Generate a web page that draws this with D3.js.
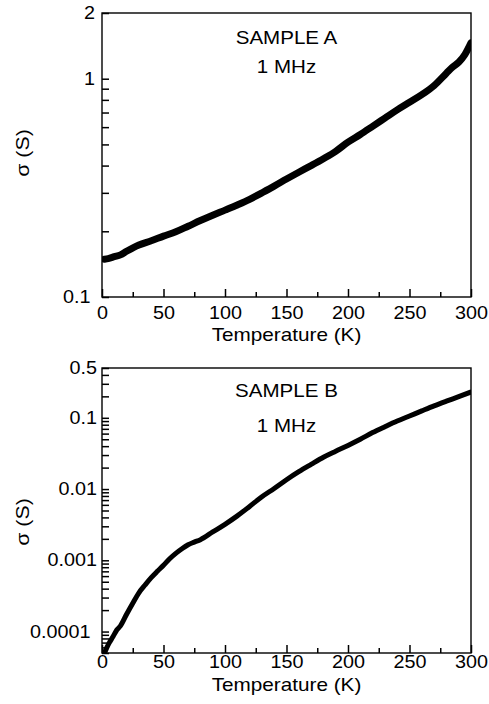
<!DOCTYPE html>
<html>
<head>
<meta charset="utf-8">
<script src="https://cdn.jsdelivr.net/npm/d3@7"></script>
<style>
  body { margin: 0; background: #fff; }
  text { font-family: "Liberation Sans", Arial, Helvetica, sans-serif; fill: #000; }
</style>
</head>
<body>
<div id="chart"></div>
<script>
// sample A, 1 MHz : conductivity vs temperature
var tempA  = [2, 5, 10, 15, 20, 30, 40, 50, 60, 70, 80, 90, 100, 110, 120, 130, 140, 150,
              160, 170, 180, 190, 200, 210, 220, 230, 240, 250, 260, 270, 280, 285, 290, 295, 300];
var sigmaA = [0.149, 0.150, 0.153, 0.156, 0.162, 0.173, 0.181, 0.190, 0.199, 0.211, 0.224, 0.237,
              0.250, 0.264, 0.280, 0.300, 0.322, 0.347, 0.373, 0.400, 0.430, 0.465, 0.512, 0.555,
              0.605, 0.660, 0.720, 0.780, 0.845, 0.93, 1.06, 1.13, 1.19, 1.29, 1.46];

// sample B, 1 MHz
var tempB  = [2, 4, 6, 9, 12, 15, 20, 25, 30, 35, 40, 45, 50, 55, 60, 65, 70, 75, 80, 90, 100,
              110, 120, 130, 140, 150, 160, 170, 180, 190, 200, 210, 220, 230, 240, 250, 260,
              270, 280, 290, 300];
var sigmaB = [5.0e-5, 6.0e-5, 7.0e-5, 8.5e-5, 1.05e-4, 1.2e-4, 1.75e-4, 2.5e-4, 3.5e-4, 4.5e-4,
              5.7e-4, 7.0e-4, 8.5e-4, 1.05e-3, 1.25e-3, 1.45e-3, 1.65e-3, 1.8e-3, 1.95e-3, 2.5e-3,
              3.2e-3, 4.2e-3, 5.7e-3, 7.8e-3, 0.0102, 0.0135, 0.0175, 0.0222, 0.028, 0.034, 0.041,
              0.050, 0.062, 0.075, 0.090, 0.106, 0.125, 0.147, 0.171, 0.198, 0.23];

// axis ticks
var xTicks  = [0, 50, 100, 150, 200, 250, 300];
var xMinor  = [25, 75, 125, 175, 225, 275];
var yTicksA = [0.1, 1, 2];
var yLabelsA = ["0.1", "1", "2"];
var yMinorA = [0.2, 0.3, 0.4, 0.5, 0.6, 0.7, 0.8, 0.9];
var yTicksB = [0.0001, 0.001, 0.01, 0.1, 0.5];
var yLabelsB = ["0.0001", "0.001", "0.01", "0.1", "0.5"];
var yMinorB = [];
[0.00001, 0.0001, 0.001, 0.01].forEach(function(dec) {
  for (var m = 2; m <= 9; m++) yMinorB.push(m * dec);
});
yMinorB = yMinorB.filter(d => d >= 0.00005).concat([0.2, 0.3, 0.4]);

var panels = [
  {id: "A", temp: tempA, sigma: sigmaA, domain: [0.1, 2], top: 13, bottom: 297,
   ticks: yTicksA, labels: yLabelsA, minor: yMinorA, yPad: 7,
   xPad: 10, xTitle: 340.5, title: ["SAMPLE A", "1 MHz"], titleY: [43.5, 73],
   yTitle: 153, stroke: 7},
  {id: "B", temp: tempB, sigma: sigmaB, domain: [0.00005, 0.5], top: 368, bottom: 653,
   ticks: yTicksB, labels: yLabelsB, minor: yMinorB, yPad: 5,
   xPad: 3, xTitle: 690.5, title: ["SAMPLE B", "1 MHz"], titleY: [397, 432],
   yTitle: 522, stroke: 5}
];

var left = 102, right = 471;
var width = 489, height = 704;

var svg = d3.select("#chart")
    .append("svg")
    .attr("width", width)
    .attr("height", height);

// the scan is slightly wider than the font, stretch text a bit
function stretch(sel, k) {
  sel.each(function() {
    var len = this.getComputedTextLength();
    d3.select(this).attr("textLength", len * k).attr("lengthAdjust", "spacingAndGlyphs");
  });
}

panels.forEach(function(p) {
  var x = d3.scaleLinear().domain([0, 300]).range([left, right]);
  var y = d3.scaleLog().domain(p.domain).range([p.bottom, p.top]);
  var g = svg.append("g");

  // clip so the data stays in the frame
  g.append("clipPath").attr("id", "clip" + p.id)
    .append("rect")
    .attr("x", left).attr("y", p.top)
    .attr("width", right - left).attr("height", p.bottom - p.top);

  // data band
  var pts = p.temp.map((t, i) => [t, p.sigma[i]]);
  var line = d3.line()
      .x(d => x(d[0]))
      .y(d => y(d[1]))
      .curve(d3.curveMonotoneX);
  g.append("path")
    .datum(pts)
    .attr("clip-path", "url(#clip" + p.id + ")")
    .attr("d", line)
    .attr("fill", "none")
    .attr("stroke", "#000")
    .attr("stroke-width", p.stroke)
    .attr("stroke-linecap", "round")
    .attr("stroke-linejoin", "round");

  // x axis, ticks point inwards
  var xa = g.append("g")
    .attr("transform", `translate(0,${p.bottom})`)
    .call(d3.axisBottom(x).tickValues(xTicks).tickSizeInner(-8).tickSizeOuter(0).tickPadding(p.xPad));
  g.append("g")
    .attr("transform", `translate(0,${p.bottom})`)
    .call(d3.axisBottom(x).tickValues(xMinor).tickSizeInner(-5).tickSizeOuter(0).tickFormat(""));

  // y axis
  var ya = g.append("g")
    .attr("transform", `translate(${left},0)`)
    .call(d3.axisLeft(y).tickValues(p.ticks).tickSizeInner(-7).tickSizeOuter(0)
      .tickPadding(p.yPad).tickFormat((d, i) => p.labels[i]));
  g.append("g")
    .attr("transform", `translate(${left},0)`)
    .call(d3.axisLeft(y).tickValues(p.minor).tickSizeInner(-7).tickSizeOuter(0).tickFormat(""));

  g.selectAll(".domain").remove();
  g.selectAll(".tick line").attr("stroke", "#000").attr("stroke-width", 1.5);
  g.selectAll(".tick text").style("font-size", "17.5px");
  // lowest y label sits clear of the corner
  ya.select(".tick text").attr("x", -11.5);
  stretch(xa.selectAll("text"), 1.13);
  stretch(ya.selectAll("text"), 1.13);

  // frame
  g.append("rect")
    .attr("x", left).attr("y", p.top)
    .attr("width", right - left).attr("height", p.bottom - p.top)
    .attr("fill", "none")
    .attr("stroke", "#000")
    .attr("stroke-width", 1.4);

  // labels
  var mid = (left + right) / 2;
  g.append("text")
    .attr("x", mid).attr("y", p.xTitle)
    .attr("text-anchor", "middle")
    .style("font-size", "18.5px")
    .text("Temperature (K)")
    .call(stretch, 1.12);

  g.append("text")
    .attr("transform", `translate(29,${p.yTitle}) rotate(-90)`)
    .attr("text-anchor", "middle")
    .style("font-size", "18.5px")
    .text("σ (S)")
    .call(stretch, 1.15);

  p.title.forEach(function(t, i) {
    g.append("text")
      .attr("x", mid).attr("y", p.titleY[i])
      .attr("text-anchor", "middle")
      .style("font-size", "18.5px")
      .text(t)
      .call(stretch, 1.11);
  });
});
</script>
</body>
</html>
